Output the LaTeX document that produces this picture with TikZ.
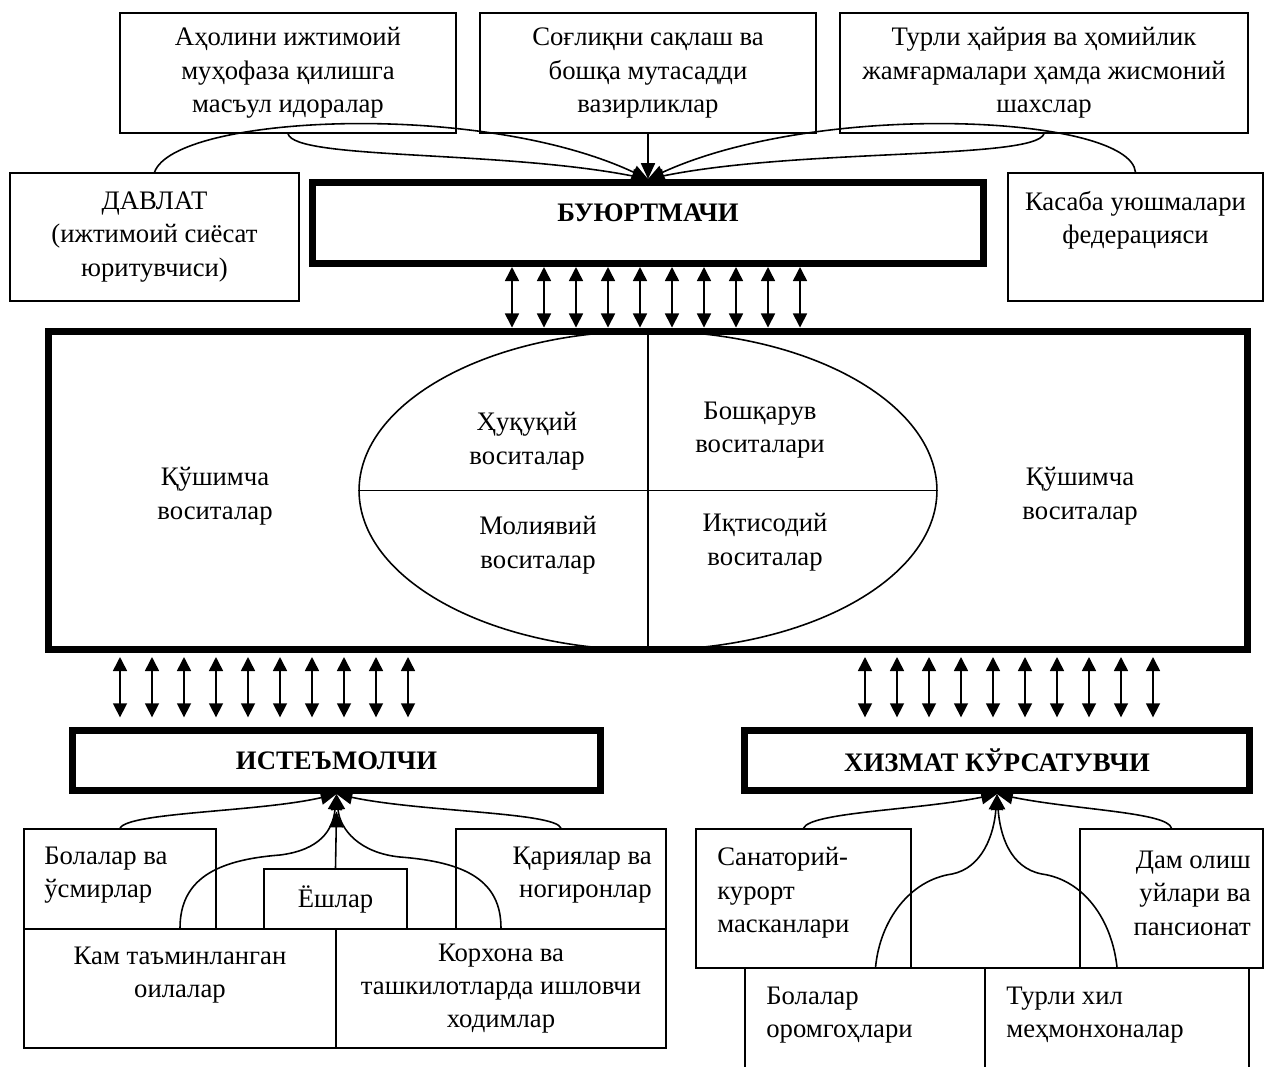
\documentclass[tikz,border=0pt]{standalone}
\usepackage{fontspec}
\setmainfont{Liberation Serif}
\usetikzlibrary{arrows.meta, shapes.geometric}

\begin{document}
\begin{tikzpicture}[x=0.02cm, y=-0.02cm,
  font=\fontsize{15.2}{19}\selectfont,
  box/.style={draw, line width=0.9pt, align=center, inner sep=0pt},
  heavy/.style={draw, line width=4pt, inner sep=0pt, font=\fontsize{15.2}{19}\selectfont\bfseries},
  txt/.style={align=center, inner sep=0pt},
  feed/.style={-{Triangle[length=9pt, width=8pt]}, line width=0.9pt},
  dbl/.style={{Triangle[length=8pt, width=8pt]}-{Triangle[length=8pt, width=8pt]}, line width=0.9pt}
]
\useasboundingbox (0,0) rectangle (1265,1066);
\clip (0,0) rectangle (1265,1066);

\node[box, minimum width=6.72cm, minimum height=2.4cm] (ahol) at (288,73) {Аҳолини ижтимоий\\муҳофаза қилишга\\масъул идоралар};
\node[box, minimum width=6.72cm, minimum height=2.4cm] (vazir) at (648,73) {Соғлиқни сақлаш ва\\бошқа мутасадди\\вазирликлар};
\node[box, minimum width=8.16cm, minimum height=2.4cm] (xayriya) at (1044,73) {Турли ҳайрия ва ҳомийлик\\жамғармалари ҳамда жисмоний\\шахслар};
\node[box, minimum width=5.78cm, minimum height=2.56cm] (davlat) at (154.5,237) {ДАВЛАТ\\(ижтимоий сиёсат\\юритувчиси)};
\node[box, minimum width=5.1cm, minimum height=2.56cm] (kasaba) at (1135.5,237) {};
\node[txt] (kasabaT) at (1135.5,220) {Касаба уюшмалари\\федерацияси};
\node[heavy, minimum width=13.42cm, minimum height=1.62cm] (buyurtma) at (648,223) {};
\node[txt, font=\fontsize{15.2}{19}\selectfont\bfseries] (buyurtmaT) at (648,213) {БУЮРТМАЧИ};

\node[heavy, minimum width=24cm, minimum height=6.38cm] (vosita) at (648,490.5) {};
\node[ellipse, draw, line width=0.9pt, inner sep=0pt, minimum width=11.56cm, minimum height=6.38cm] (ellips) at (648,490.5) {};
\draw[line width=0.9pt] (ellips.west) -- (ellips.east) (ellips.north) -- (ellips.south);
\node[txt] (qushL) at (215,496) {Қўшимча\\воситалар};
\node[txt] (qushR) at (1080,496) {Қўшимча\\воситалар};
\node[txt] (huquq) at (527,441) {Ҳуқуқий\\воситалар};
\node[txt] (boshq) at (760,430) {Бошқарув\\воситалари};
\node[txt] (moliya) at (538,545) {Молиявий\\воситалар};
\node[txt] (iqtis) at (765,542) {Иқтисодий\\воситалар};

\node[heavy, minimum width=10.56cm, minimum height=1.2cm] (istem) at (336.5,760.5) {ИСТЕЪМОЛЧИ};
\node[heavy, minimum width=10.1cm, minimum height=1.2cm] (xizmat) at (997,760.5) {ХИЗМАТ КЎРСАТУВЧИ};

\node[box, minimum width=3.84cm, minimum height=2cm] (bolalar) at (120,879) {};
\node[txt, anchor=west, align=left] (bolalarT) at (44,875) {Болалар ва\\ўсмирлар};
\node[box, minimum width=2.86cm, minimum height=1.2cm] (yoshlar) at (335.5,899) {Ёшлар};
\node[box, minimum width=4.2cm, minimum height=2cm] (qariya) at (561,879) {};
\node[txt, anchor=east, align=right] (qariyaT) at (652,875) {Қариялар ва\\ногиронлар};
\node[box, minimum width=6.24cm, minimum height=2.38cm] (kam) at (180,988.5) {};
\node[txt] (kamT) at (180,975) {Кам таъминланган\\оилалар};
\node[box, minimum width=6.6cm, minimum height=2.38cm] (korxona) at (501,988.5) {Корхона ва\\ташкилотларда ишловчи\\ходимлар};

\node[box, minimum width=4.3cm, minimum height=2.78cm] (sanator) at (803.5,898.5) {};
\node[txt, anchor=west, align=left] (sanatorT) at (717,893) {Санаторий-\\курорт\\масканлари};
\node[box, minimum width=3.66cm, minimum height=2.78cm] (dam) at (1171.5,898.5) {};
\node[txt, anchor=east, align=right] (damT) at (1251,893) {Дам олиш\\уйлари ва\\пансионат};
\node[box, minimum width=4.8cm, minimum height=2.4cm] (oromgoh) at (865,1028) {};
\node[txt, anchor=west, align=left] (oromgohT) at (766,1015) {Болалар\\оромгоҳлари};
\node[box, minimum width=5.28cm, minimum height=2.4cm] (mehmon) at (1117,1028) {};
\node[txt, anchor=west, align=left] (mehmonT) at (1006,1015) {Турли хил\\меҳмонхоналар};

\draw[feed] (davlat.north) .. controls (175,115) and (480,100) .. (buyurtma.north);
\draw[feed] (ahol.south) .. controls (295,160) and (500,150) .. (buyurtma.north);
\draw[feed] (vazir.south) -- (buyurtma.north);
\draw[feed] (xayriya.south) .. controls (1035,160) and (800,148) .. (buyurtma.north);
\draw[feed] (kasaba.north) .. controls (1130,115) and (820,100) .. (buyurtma.north);

\foreach \x in {512,544,...,800}
  \draw[dbl] (buyurtma.south -| \x,0) -- (vosita.north -| \x,0);
\foreach \x in {120,152,...,408}
  \draw[dbl, shorten <=2pt, shorten >=5.5pt] (vosita.south -| \x,0) -- (istem.north -| \x,0);
\foreach \x in {865,897,...,1153}
  \draw[dbl, shorten <=2pt, shorten >=5.5pt] (vosita.south -| \x,0) -- (xizmat.north -| \x,0);

\draw[feed] (bolalar.north) .. controls (128,812) and (260,812) .. (istem.south);
\draw[feed] (qariya.north) .. controls (556,812) and (420,812) .. (istem.south);
\draw[feed] (kam.north) .. controls (180,880) and (215,860) .. (280,855) .. controls (320,850) and (333,830) .. (istem.south);
\draw[feed] (korxona.north) .. controls (501,880) and (465,862) .. (400,857) .. controls (360,853) and (340,830) .. (istem.south);
\draw[feed] (yoshlar.north) -- ([yshift=-10pt]istem.south);

\draw[feed] (sanator.north) .. controls (810,812) and (920,810) .. (xizmat.south);
\draw[feed] (dam.north) .. controls (1168,812) and (1075,810) .. (xizmat.south);
\draw[feed] ([xshift=6pt]oromgoh.north) .. controls (880,920) and (910,880) .. (952,874) .. controls (982,868) and (994,835) .. (xizmat.south);
\draw[feed] (mehmon.north) .. controls (1112,920) and (1084,880) .. (1042,874) .. controls (1010,868) and (1000,835) .. (xizmat.south);
\end{tikzpicture}
\end{document}
